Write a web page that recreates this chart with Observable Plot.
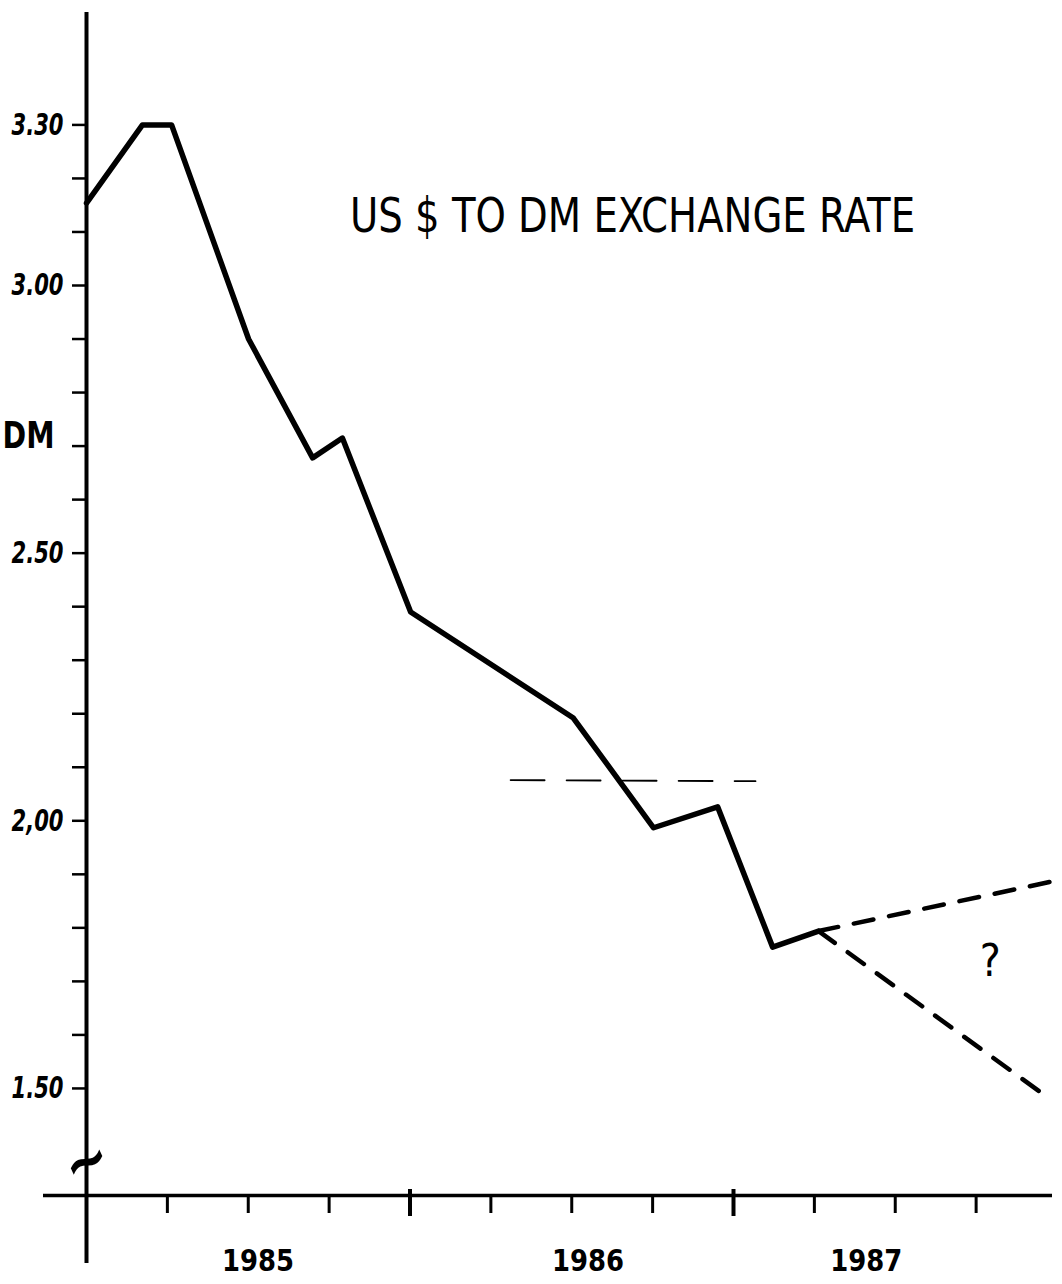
<!DOCTYPE html>
<html>
<head>
<meta charset="utf-8">
<script src="https://cdn.jsdelivr.net/npm/d3@7"></script>
<script src="https://cdn.jsdelivr.net/npm/@observablehq/plot@0.6"></script>
<style>
  html, body { margin: 0; padding: 0; background: #fff; }
  #chart svg { display: block; background: #fff; }
</style>
</head>
<body>
<div id="chart"></div>
<script>
// ---- data (decimal years, DM per US $) ----
const years = [1985.000, 1985.173, 1985.263, 1985.501, 1985.699, 1985.791, 1986.002, 1986.505, 1986.753, 1986.951, 1987.121, 1987.263];
const rates = [3.154, 3.30, 3.30, 2.90, 2.678, 2.715, 2.39, 2.192, 1.987, 2.026, 1.764, 1.794];

const upperYears = [1987.263, 1987.980];
const upperRates = [1.794, 1.886];
const lowerYears = [1987.263, 1987.974];
const lowerRates = [1.794, 1.482];

const refYears = [1986.311, 1987.068];
const refRates = [2.076, 2.074];

const yTicks = [1.5, 1.6, 1.7, 1.8, 1.9, 2.0, 2.1, 2.2, 2.3, 2.4, 2.5, 2.6, 2.7, 2.8, 2.9, 3.0, 3.1, 3.2, 3.3];
const yLabelValues = [3.3, 3.0, 2.5, 2.0, 1.5];
const yLabels = ["3.30", "3.00", "2.50", "2,00", "1.50"];

const quarterTicks = [1985.25, 1985.5, 1985.75, 1986.25, 1986.5, 1986.75, 1987.25, 1987.5, 1987.75];
const yearTicks = [1986, 1987];
const yearLabels = ["1985", "1986", "1987"];
const yearLabelPos = [1985.53, 1986.55, 1987.41];

const titleText = "US $ TO DM EXCHANGE RATE";
const unitText = "DM";

// ---- layout ----
const W = 1062, H = 1284;
const mL = 86, mR = 5.5, mT = 12, mB = 89;
const xDomain = [1985, 1988];
const yDomain = [1.30, 3.51];
const pxX = (W - mL - mR) / (xDomain[1] - xDomain[0]);
const pxY = (H - mT - mB) / (yDomain[1] - yDomain[0]);
const dxv = px => px / pxX;   // pixels -> years
const dyv = px => px / pxY;   // pixels -> DM

const line = years.map((t, i) => ({t, v: rates[i]}));
const upper = upperYears.map((t, i) => ({t, v: upperRates[i]}));
const lower = lowerYears.map((t, i) => ({t, v: lowerRates[i]}));
const ref = refYears.map((t, i) => ({t, v: refRates[i]}));
const yLab = yLabelValues.map((v, i) => ({v, label: yLabels[i]}));
const xLab = yearLabels.map((s, i) => ({t: yearLabelPos[i], label: s}));

const hand = "DejaVu Sans Condensed, DejaVu Sans, sans-serif";

const plot = Plot.plot({
  width: W, height: H,
  marginLeft: mL, marginRight: mR, marginTop: mT, marginBottom: mB,
  x: {domain: xDomain, axis: null},
  y: {domain: yDomain, axis: null},
  style: {background: "#fff", color: "#000", overflow: "visible"},
  marks: [
    // y axis line (extends below the x axis)
    Plot.ruleX([xDomain[0]], {y1: yDomain[0] - dyv(68), y2: yDomain[1], stroke: "#000", strokeWidth: 4}),
    // x axis line (extends left of the y axis)
    Plot.ruleY([yDomain[0]], {x1: xDomain[0] - dxv(43), x2: xDomain[0] + dxv(966), stroke: "#000", strokeWidth: 3.5}),
    // y ticks
    Plot.axisY({ticks: yTicks, tickSize: 14, tickPadding: 10, tickFormat: () => "", strokeWidth: 2.5, label: null}),
    Plot.text(yLab, {x: xDomain[0], y: "v", text: "label", textAnchor: "end", dx: -23, fontSize: 31,
      fontFamily: hand, fontStyle: "italic", fontWeight: "bold", lineAnchor: "middle"}),
    // x ticks
    Plot.axisX({ticks: quarterTicks, tickSize: 18, tickFormat: () => "", strokeWidth: 3, label: null}),
    Plot.ruleX(yearTicks, {y1: yDomain[0] + dyv(6), y2: yDomain[0] - dyv(21), stroke: "#000", strokeWidth: 4}),
    Plot.text(xLab, {x: "t", y: yDomain[0], text: "label", dy: 66, fontSize: 31, fontWeight: "bold",
      fontFamily: hand, lineAnchor: "middle"}),
    // reference dashed line
    Plot.line(ref, {x: "t", y: "v", stroke: "#000", strokeWidth: 1.8, strokeDasharray: "34,22"}),
    // forecasts
    Plot.line(upper, {x: "t", y: "v", stroke: "#000", strokeWidth: 4.5, strokeDasharray: "20,16", strokeLinecap: "round"}),
    Plot.line(lower, {x: "t", y: "v", stroke: "#000", strokeWidth: 4.5, strokeDasharray: "20,16", strokeLinecap: "round"}),
    // main series
    Plot.line(line, {x: "t", y: "v", stroke: "#000", strokeWidth: 5.5, strokeLinejoin: "round", strokeLinecap: "round"}),
    // annotations
    Plot.text([titleText], {x: 1986.688, y: 3.128, text: d => d, fontSize: 48, fontFamily: hand, lineAnchor: "middle"}),
    Plot.text([unitText], {x: xDomain[0] - dxv(58), y: 2.719, text: d => d, fontSize: 38, fontWeight: "bold", fontFamily: hand, lineAnchor: "middle"}),
    Plot.text(["?"], {x: 1987.794, y: 1.736, text: d => d, fontSize: 44, fontFamily: hand, lineAnchor: "middle"}),
    Plot.text(["~"], {x: xDomain[0], y: 1.363, text: d => d, fontSize: 60, fontWeight: "bold", fontFamily: hand, lineAnchor: "middle", rotate: -25})
  ]
});

const svg = d3.select(plot);
const fit = (match, len) => svg.selectAll("text")
  .filter(function() { return match(this.textContent); })
  .attr("textLength", len).attr("lengthAdjust", "spacingAndGlyphs");
fit(s => s === titleText, 565);
fit(s => yLabels.includes(s), 52);
fit(s => yearLabels.includes(s), 72);
fit(s => s === unitText, 52);
document.getElementById("chart").appendChild(plot);
</script>
</body>
</html>
